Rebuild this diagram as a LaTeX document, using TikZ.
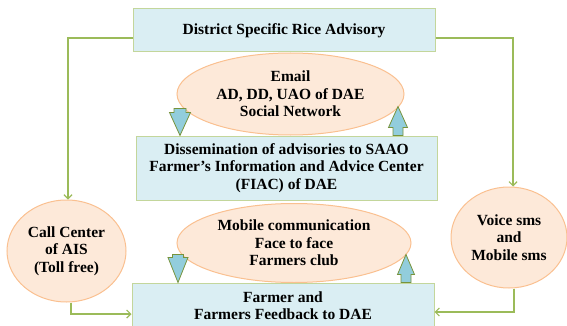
\documentclass[tikz,border=0pt]{standalone}
\usepackage{fontspec}
\setmainfont{Liberation Serif}
\usetikzlibrary{shapes.geometric,arrows.meta}

\definecolor{boxblue}{HTML}{DAEEF3}
\definecolor{boxedge}{HTML}{C3D69B}
\definecolor{peach}{HTML}{FDE9D9}
\definecolor{peachedge}{HTML}{FAC090}
\definecolor{linegreen}{HTML}{9BBB59}
\definecolor{arrowblue}{HTML}{92CDDC}
\definecolor{arrowedge}{HTML}{77933C}

\begin{document}
\begin{tikzpicture}[x=1pt,y=-1pt,
  font=\fontsize{15.5}{17.5}\selectfont\bfseries,
  advbox/.style={rectangle,fill=boxblue,draw=boxedge,line width=1pt,align=center,inner sep=2pt},
  channel/.style={ellipse,fill=peach,draw=peachedge,line width=1pt,align=center,inner sep=0pt},
  flowline/.style={draw=linegreen,line width=1.2pt,-{Straight Barb[length=4pt,width=8pt]}},
  blockarrow/.style={fill=arrowblue,draw=arrowedge,line width=0.8pt,line join=miter}]

  \clip (0,0) rectangle (567,326);

  % advisory boxes
  \node[advbox,minimum width=302,minimum height=43] (dsra) at (284,30.5) {District Specific Rice Advisory};
  \node[advbox,minimum width=301,minimum height=64] (disso) at (286.5,168)
    {Dissemination of advisories to SAAO\\ Farmer's Information and Advice Center\\ (FIAC) of DAE};
  \node[advbox,minimum width=302,minimum height=45] (farmer) at (283,305.5) {Farmer and\\ Farmers Feedback to DAE};

  % channels
  \node[channel,minimum width=227,minimum height=82] (email) at (290.5,94) {Email\\ AD, DD, UAO of DAE\\ Social Network};
  \node[channel,minimum width=234,minimum height=79] (mobile) at (294,243) {Mobile communication\\ Face to face\\ Farmers club};
  \node[channel,minimum width=119,minimum height=102] (callc) at (66.5,251) {Call Center\\ of AIS\\ (Toll free)};
  \node[channel,minimum width=116,minimum height=101] (voice) at (509,237.5) {Voice sms\\ and\\ Mobile sms};

  % green connectors
  \draw[flowline] ([yshift=-7.5pt]dsra.west) -| ([xshift=1.5pt]callc.north);
  \draw[flowline] ([yshift=-7.5pt]dsra.east) -| ([xshift=4pt]voice.north);
  \draw[flowline] ([xshift=4.5pt]callc.south) |- ([yshift=-8.5pt]farmer.west);
  \draw[flowline] ([xshift=5pt]voice.south) |- ([yshift=-6.5pt]farmer.east);

  % block arrows between channels and boxes
  \coordinate (downtop) at (disso.north -| 180,0);
  \coordinate (uptop) at (disso.north -| 398,0);
  \coordinate (downbot) at (farmer.north -| 178,0);
  \coordinate (upbot) at (farmer.north -| 406,0);

  \draw[blockarrow] (downtop) -- ++(10.5,-23) -- ++(-4.5,0) -- ++(0,-4) -- ++(-12,0)
    -- ++(0,4) -- ++(-4.5,0) -- cycle;
  \draw[blockarrow] ([xshift=-5pt]uptop) -- ++(0,-8) -- ++(-4.5,0) -- ++(9.5,-21)
    -- ++(9.5,21) -- ++(-4.5,0) -- ++(0,8) -- cycle;
  \draw[blockarrow] (downbot) -- ++(10,-25) -- ++(-4.5,0) -- ++(0,-3) -- ++(-11,0)
    -- ++(0,3) -- ++(-4.5,0) -- cycle;
  \draw[blockarrow] ([xshift=-5pt]upbot) -- ++(0,-8) -- ++(-3.5,0) -- ++(8.5,-20)
    -- ++(8.5,20) -- ++(-3.5,0) -- ++(0,8) -- cycle;
\end{tikzpicture}
\end{document}
